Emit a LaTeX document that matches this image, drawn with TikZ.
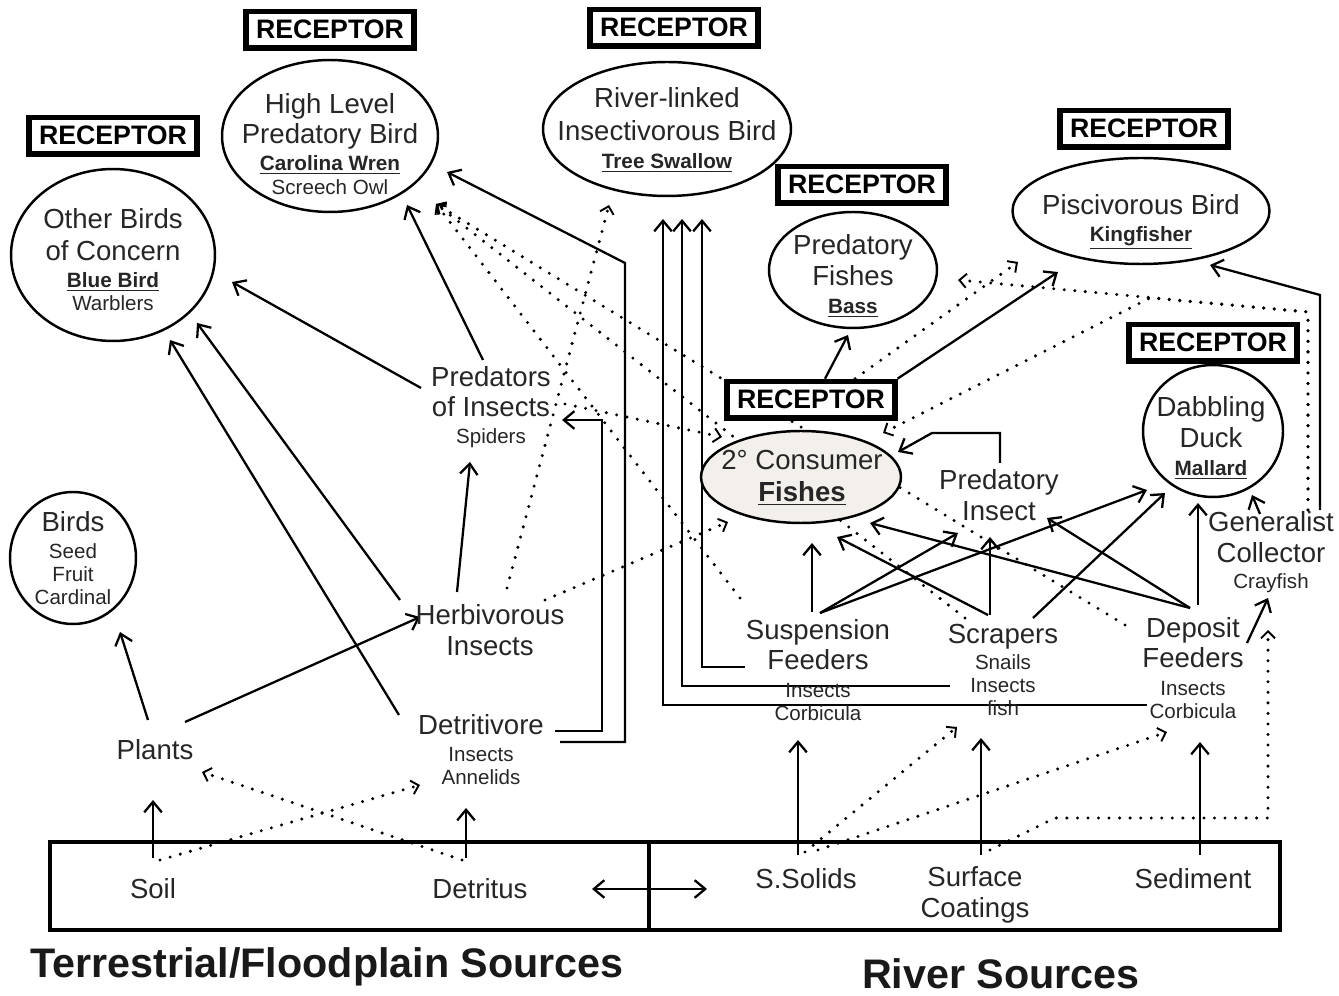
\documentclass[tikz,border=0pt]{standalone}
\usepackage{fontspec}
\setmainfont{Liberation Sans}
\usepackage{tikz}
\usetikzlibrary{shapes.geometric, arrows.meta, positioning, calc, backgrounds}
\definecolor{fishfill}{RGB}{243,240,236}
\newcommand{\smtxt}[1]{{\fontsize{11.7}{13.3}\selectfont #1}}
\newcommand{\sptxt}[1]{{\fontsize{11.8}{13.3}\selectfont\bfseries\underline{#1}}}
\tikzset{
  bird/.style    = {ellipse, draw=black, fill=white, line width=1.4pt, inner sep=0pt},
  recep/.style   = {rectangle, draw=black, fill=white, line width=3.2pt, minimum width=3.35cm,
                    minimum height=0.73cm, inner sep=0pt,
                    font=\fontsize{15.2}{17}\selectfont\bfseries},
  taxon/.style   = {align=center, inner sep=1pt, text=black!85,
                    font=\fontsize{15.7}{17.5}\selectfont},
  src/.style     = {rectangle, draw=black, line width=2.6pt, minimum height=1.76cm, inner sep=0pt},
  srclbl/.style  = {font=\fontsize{23.5}{26}\selectfont\bfseries, text=black!90, inner sep=0pt},
  arr/.style     = {->, line width=1.3pt},
  dotarr/.style  = {-{Straight Barb[length=4pt,width=8pt,line width=1.1pt]}, line width=1.9pt,
                    line cap=round, dash pattern=on 0pt off 6pt}
}

\begin{document}
\begin{tikzpicture}[x=0.02cm, y=-0.02cm, >={Straight Barb[length=6pt,width=10pt]}]
  \useasboundingbox (0,0) rectangle (1339,996);

  % receptors
  \node[bird, minimum width=4.08cm, minimum height=3.44cm] (otherbirds) at (113,255) {};
  \node[bird, minimum width=4.32cm, minimum height=3.04cm] (hlbird) at (330,136) {};
  \node[bird, minimum width=4.96cm, minimum height=2.68cm] (rlbird) at (667,129) {};
  \node[bird, minimum width=3.36cm, minimum height=2.32cm] (predfish) at (853,270) {};
  \node[bird, minimum width=5.14cm, minimum height=2.12cm] (piscbird) at (1141,211) {};
  \node[bird, fill=fishfill, minimum width=4.0cm, minimum height=1.84cm] (consfish) at (801,477) {};
  \node[bird, minimum width=2.8cm, minimum height=2.64cm] (duck) at (1213,431) {};
  \node[bird, minimum width=2.52cm, minimum height=2.64cm] (seedbirds) at (73,558) {};

  \node[recep, above=0.22cm of otherbirds] (recOther) {RECEPTOR};
  \node[recep, above=0.16cm of hlbird] (recHigh) {RECEPTOR};
  \node[recep, above=0.24cm of rlbird, xshift=0.14cm] (recRiver) {RECEPTOR};
  \node[recep, above=0.1cm of predfish, xshift=0.18cm] (recPred) {RECEPTOR};
  \node[recep, above=0.14cm of piscbird, xshift=0.06cm] (recPisc) {RECEPTOR};
  \node[recep, above=0.18cm of consfish, xshift=0.2cm] (recCons) {RECEPTOR};
  \node[recep, above=0cm of duck] (recDuck) {RECEPTOR};

  % sources
  \node[src, minimum width=11.98cm] (terrbox) at (349.5,886) {};
  \node[src, minimum width=12.62cm] (riverbox) at (964.5,886) {};
  \node[taxon] (soil) at (153,889) {Soil};
  \node[taxon] (detritus) at (480,889) {Detritus};
  \node[taxon] (ssolids) at (806,879) {S.Solids};
  \node[taxon] (surfcoat) at (975,895) {Surface\\Coatings};
  \node[taxon] (sediment) at (1193,879) {Sediment};
  \node[srclbl] (terrlbl) at (327,967) {Terrestrial/Floodplain Sources};
  \node[srclbl] (riverlbl) at (1001,974) {River Sources};

  % consumers
  \node[taxon] (plants) at (155,750) {Plants};
  \node[taxon] (herbins) at (490,630) {Herbivorous\\Insects};
  \node[taxon] (detriv) at (481,750) {Detritivore\\[-2.2pt]\smtxt{Insects}\\[-4.4pt]\smtxt{Annelids}};
  \node[taxon] (spiders) at (491,407) {Predators\\of Insects\\[-2.2pt]\smtxt{Spiders}};
  \node[taxon] (predins) at (999,495) {Predatory\\Insect};
  \node[taxon] (suspf) at (818,670) {Suspension\\Feeders\\[-1.6pt]\smtxt{Insects}\\[-4.5pt]\smtxt{Corbicula}};
  \node[taxon] (scrap) at (1003,670) {Scrapers\\[-2.8pt]\smtxt{Snails}\\[-3.9pt]\smtxt{Insects}\\[-4.5pt]\smtxt{fish}};
  \node[taxon] (depf) at (1193,668) {Deposit\\Feeders\\[-1.6pt]\smtxt{Insects}\\[-4.5pt]\smtxt{Corbicula}};
  \node[taxon] (gencol) at (1271,552) {Generalist\\Collector\\[-2.8pt]\smtxt{Crayfish}};

  \begin{scope}[on background layer]
  % terrestrial links
  \draw[arr] ([shift={(0,-31)}]soil.center) -- ([shift={(-2,50)}]plants.center);
  \draw[arr] ([shift={(-14,-31)}]detritus.center) -- ([shift={(-15,58)}]detriv.center);
  \draw[arr] ([shift={(-7,-30)}]plants.center) -- ([shift={(47,74)}]seedbirds.center);
  \draw[arr] ([shift={(30,-28)}]plants.center) -- ([shift={(-70,-13)}]herbins.center);
  \draw[arr] ([shift={(-82,-35)}]detriv.center) -- ([shift={(57,85)}]otherbirds.center);
  \draw[arr] ([shift={(-90,-30)}]herbins.center) -- ([shift={(84,68)}]otherbirds.center);
  \draw[arr] ([shift={(-33,-38)}]herbins.center) -- ([shift={(-21,55)}]spiders.center);
  \draw[arr] ([shift={(-70,-19)}]spiders.center) -- ([shift={(119,27)}]otherbirds.center);
  \draw[arr] ([shift={(-8,-47)}]spiders.center) -- ([shift={(77,69)}]hlbird.center);
  \draw[arr] ([shift={(74,-19)}]detriv.center) -- ++(47,0) |- ([shift={(71,13)}]spiders.center);
  \draw[arr] ([shift={(79,-8)}]detriv.center) -- ++(65,0) -- ++(0,-479) -- ([shift={(117,36)}]hlbird.center);

  % aquatic insects up to the swallow
  \draw[arr] ([shift={(-73,-3)}]suspf.center) -| ([shift={(35,90)}]rlbird.center);
  \draw[arr] ([shift={(-53,16)}]scrap.center) -| ([shift={(15,90)}]rlbird.center);
  \draw[arr] ([shift={(-46,37)}]depf.center) -| ([shift={(-4,90)}]rlbird.center);

  % fishes, birds
  \draw[arr] ([shift={(14,0)}]recCons.north) -- ([shift={(-5,65)}]predfish.center);
  \draw[arr] (recCons.north east) -- ([shift={(-83,61)}]piscbird.center);
  \draw[arr] ([shift={(49,-42)}]gencol.center) -- ++(0,-215) -- ([shift={(69,54)}]piscbird.center);
  \draw[arr] ([shift={(-11,-38)}]gencol.center) -- ([shift={(39,64)}]duck.center);
  \draw[arr] ([shift={(1,-32)}]predins.center) -- ++(0,-30) -- ++(-68,0) -- ([shift={(97,-25)}]consfish.center);

  % aquatic insects
  \draw[arr] ([shift={(-6,-58)}]suspf.center) -- ([shift={(11,66)}]consfish.center);
  \draw[arr] ([shift={(2,-57)}]suspf.center) -- ([shift={(-41,38)}]predins.center);
  \draw[arr] ([shift={(2,-57)}]suspf.center) -- ([shift={(-66,59)}]duck.center);
  \draw[arr] ([shift={(-15,-55)}]scrap.center) -- ([shift={(36,60)}]consfish.center);
  \draw[arr] ([shift={(-13,-55)}]scrap.center) -- ([shift={(-9,42)}]predins.center);
  \draw[arr] ([shift={(30,-52)}]scrap.center) -- ([shift={(-48,62)}]duck.center);
  \draw[arr] ([shift={(-3,-60)}]depf.center) -- ([shift={(69,46)}]consfish.center);
  \draw[arr] ([shift={(-3,-60)}]depf.center) -- ([shift={(48,23)}]predins.center);
  \draw[arr] ([shift={(5,-63)}]depf.center) -- ([shift={(-15,72)}]duck.center);
  \draw[arr] ([shift={(54,-25)}]depf.center) -- ([shift={(-3,46)}]gencol.center);

  % river sources
  \draw[arr] ([shift={(-8,-24)}]ssolids.center) -- ([shift={(-20,70)}]suspf.center);
  \draw[arr] ([shift={(6,-40)}]surfcoat.center) -- ([shift={(-22,68)}]scrap.center);
  \draw[arr] ([shift={(7,-24)}]sediment.center) -- ([shift={(7,74)}]depf.center);
  \draw[<->, line width=1.3pt] ([shift={(112,0)}]detritus.center) -- ([shift={(-99,10)}]ssolids.center);

  % dotted links
  \draw[dotarr] ([shift={(7,-29)}]soil.center) -- ([shift={(-61,35)}]detriv.center);
  \draw[dotarr] ([shift={(-18,-29)}]detritus.center) -- ([shift={(47,22)}]plants.center);
  \draw[dotarr] ([shift={(17,-42)}]herbins.center) -- ([shift={(-58,76)}]rlbird.center);
  \draw[dotarr] ([shift={(55,-30)}]herbins.center) -- ([shift={(-73,45)}]consfish.center);
  \draw[dotarr] ([shift={(74,-3)}]spiders.center) -- ([shift={(-79,-40)}]consfish.center);
  \draw[dotarr] ([shift={(-78,-72)}]suspf.center) -- ([shift={(106,68)}]hlbird.center);
  \draw[dotarr] ([shift={(-38,-52)}]scrap.center) -- ([shift={(106,68)}]hlbird.center);
  \draw[dotarr] ([shift={(-68,-43)}]depf.center) -- ([shift={(106,68)}]hlbird.center);
  \draw[dotarr] ([shift={(37,-42)}]gencol.center) -- ++(0,-198) -- ([shift={(105,10)}]predfish.center);
  \draw[dotarr] ([shift={(37,-42)}]gencol.center) -- ++(0,-198) -- ++(-158,-14) -- ([shift={(82,-44)}]consfish.center);
  \draw[dotarr] ([shift={(44,0)}]recCons.north) -- ([shift={(-123,51)}]piscbird.center);
  \draw[dotarr] ([shift={(-1,-27)}]ssolids.center) -- ([shift={(-46,57)}]scrap.center);
  \draw[dotarr] ([shift={(12,-29)}]ssolids.center) -- ([shift={(-26,64)}]depf.center);
  \draw[dotarr] ([shift={(15,-45)}]surfcoat.center) -- ++(65,-32) -- ++(213,0) -- ([shift={(-3,78)}]gencol.center);
  \end{scope}

  % receptor labels
  \node[taxon] (otherbirdsT) at (113,260) {Other Birds\\[0.6pt]of Concern\\[-2.2pt]\sptxt{Blue Bird}\\[-4.2pt]\smtxt{Warblers}};
  \node[taxon] (hlbirdT) at (330,144) {High Level\\Predatory Bird\\[-2.2pt]\sptxt{Carolina Wren}\\[-3.9pt]\smtxt{Screech Owl}};
  \node[taxon] (rlbirdT) at (667,130) {River-linked\\[1.2pt]Insectivorous Bird\\[-1.6pt]\sptxt{Tree Swallow}};
  \node[taxon] (predfishT) at (853,276) {Predatory\\Fishes\\[-1.1pt]\sptxt{Bass}};
  \node[taxon] (piscbirdT) at (1141,222) {Piscivorous Bird\\[-2.2pt]\sptxt{Kingfisher}};
  \node[taxon] (consfishT) at (802,478) {2° Consumer\\[0.6pt]\textbf{\underline{Fishes}}};
  \node[taxon] (duckT) at (1211,438) {Dabbling\\Duck\\[-1.6pt]\sptxt{Mallard}};
  \node[taxon] (seedbirdsT) at (73,558) {Birds\\[-2.2pt]\smtxt{Seed}\\[-4.5pt]\smtxt{Fruit}\\[-4.5pt]\smtxt{Cardinal}};
\end{tikzpicture}
\end{document}
